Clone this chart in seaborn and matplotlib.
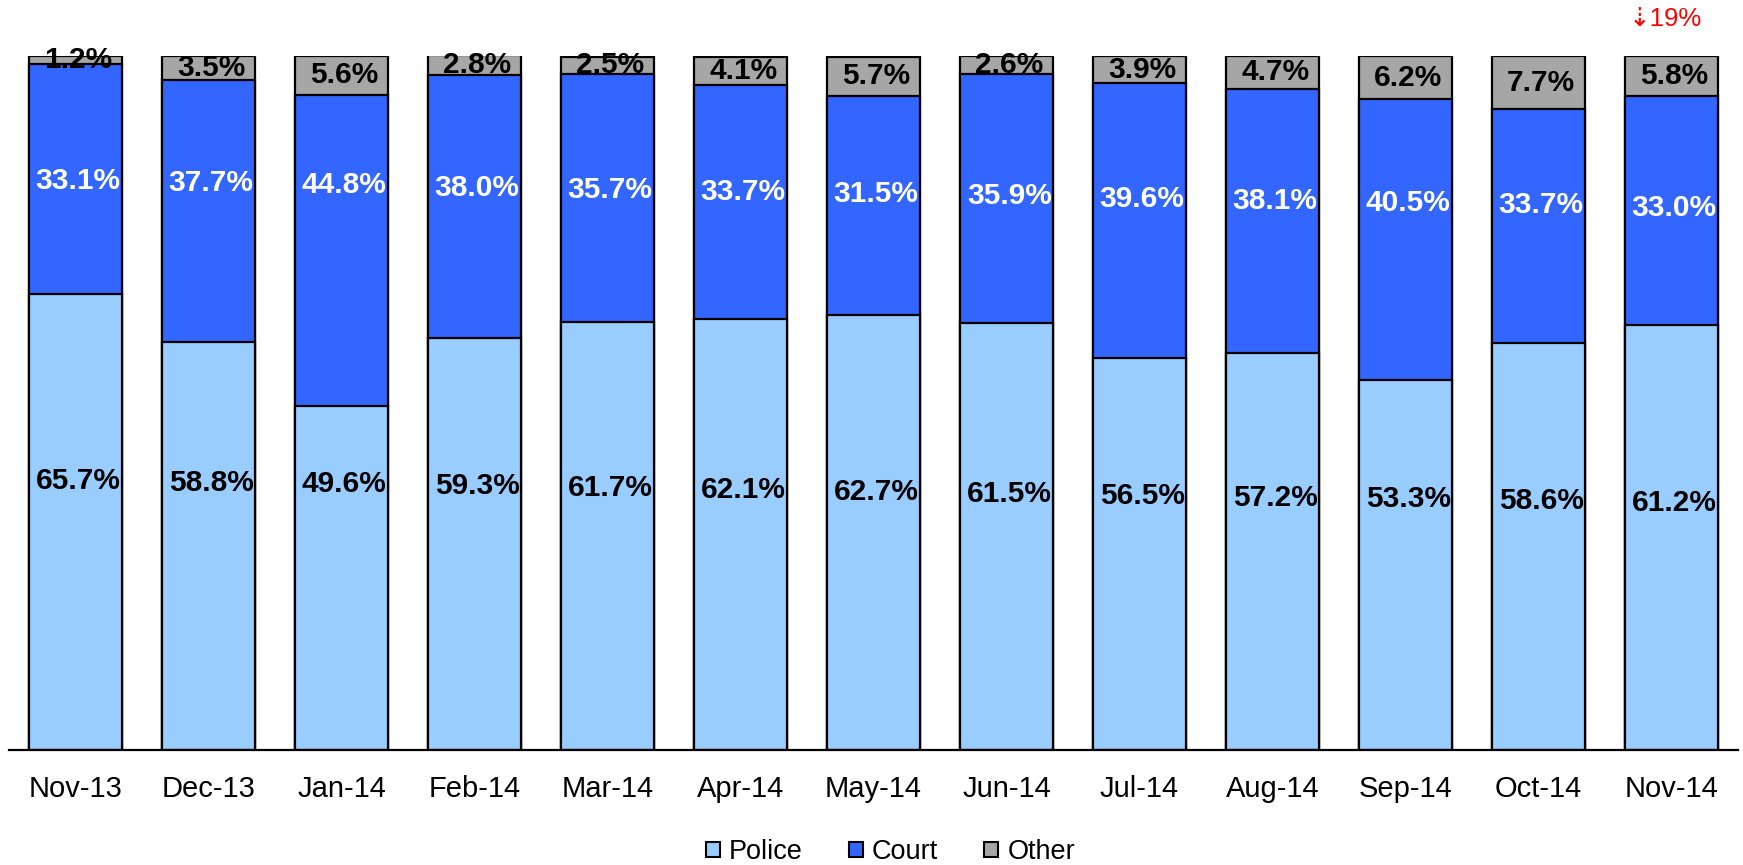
import numpy as np
import pandas as pd
import matplotlib as mpl
import matplotlib.pyplot as plt
import seaborn as sns
from matplotlib.patches import Patch

months = ["Nov-13", "Dec-13", "Jan-14", "Feb-14", "Mar-14", "Apr-14", "May-14",
          "Jun-14", "Jul-14", "Aug-14", "Sep-14", "Oct-14", "Nov-14"]
police = [65.7, 58.8, 49.6, 59.3, 61.7, 62.1, 62.7, 61.5, 56.5, 57.2, 53.3, 58.6, 61.2]
court = [33.1, 37.7, 44.8, 38.0, 35.7, 33.7, 31.5, 35.9, 39.6, 38.1, 40.5, 33.7, 33.0]
other = [1.2, 3.5, 5.6, 2.8, 2.5, 4.1, 5.7, 2.6, 3.9, 4.7, 6.2, 7.7, 5.8]
change_note = "\u21e319%"

sns.set_theme(style="white", rc={"text.color": "black", "xtick.color": "black"})
plt.rcParams["font.family"] = ["Liberation Sans", "DejaVu Sans"]

df = pd.DataFrame({"month": months, "police": police, "court": court, "other": other})
df["pc"] = df["police"] + df["court"]
df["total"] = df["pc"] + df["other"]

c_police = "#99CCFF"
c_court = "#3366FF"
c_other = "#A6A6A6"

fig = plt.figure(figsize=(17.43, 8.65), dpi=100)
ax = fig.add_axes([9 / 1743, 115 / 865, (1738 - 9) / 1743, (750 - 56) / 865])

# stacked bars drawn as cumulative layers
for col, color in [("total", c_other), ("pc", c_court), ("police", c_police)]:
    sns.barplot(data=df, x="month", y=col, color=color, width=0.7,
                edgecolor="black", linewidth=1.6, saturation=1, ax=ax)

ax.set_ylim(0, 100)
ax.set_xlim(-0.5, len(months) - 0.5)
ax.set(xlabel="", ylabel="")
ax.set_yticks([])
for s in ["left", "right", "top"]:
    ax.spines[s].set_visible(False)
ax.spines["bottom"].set_linewidth(1.6)
ax.spines["bottom"].set_color("black")

ax.set_xticks(range(len(months)))
ax.set_xticklabels(months, fontsize=21, color="black")
ax.set_xticks(np.arange(-0.5, len(months)), minor=True)
ax.tick_params(axis="x", which="major", length=0, pad=18)
ax.tick_params(axis="x", which="minor", length=6, width=1.6, color="black", direction="out")

# labels sit on a nearly level line, as in the original chart
lab = dict(ha="center", va="center", fontsize=21.5, fontweight="bold")
for i in range(len(months)):
    ax.text(i + 0.02, 38.8 - 0.27 * i, f"{police[i]:.1f}%", color="black", **lab)
    ax.text(i + 0.02, 82.0 - 0.32 * i, f"{court[i]:.1f}%", color="white", **lab)
    ax.text(i + 0.02, police[i] + court[i] + other[i] / 2, f"{other[i]:.1f}%",
            color="black", **lab)

fig.text(1665 / 1743, 1 - 19 / 865, change_note, color="red", fontsize=18.5,
         ha="center", va="center")

handles = [Patch(facecolor=c, edgecolor="black", linewidth=1.5, label=l)
           for c, l in [(c_police, "Police"), (c_court, "Court"), (c_other, "Other")]]
leg = fig.legend(handles=handles, loc="center", bbox_to_anchor=(0.511, 1 - 852 / 865),
                 ncol=3, frameon=False, fontsize=19.5, handlelength=0.5, handleheight=0.5,
                 handletextpad=0.35, columnspacing=1.7)
for t in leg.get_texts():
    t.set_color("black")

fig.savefig("out.png", dpi=100)
